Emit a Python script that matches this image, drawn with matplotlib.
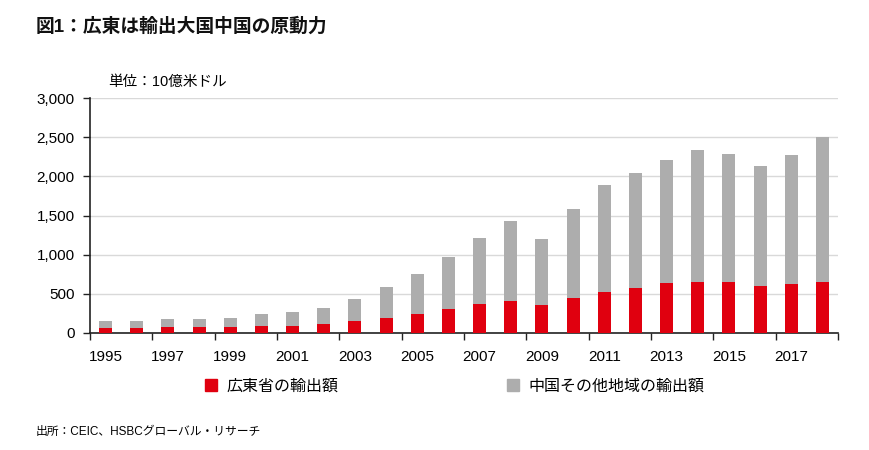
import matplotlib
matplotlib.use("Agg")
import matplotlib.pyplot as plt
from matplotlib.patches import Patch

plt.rcParams['font.family'] = ['Liberation Sans', 'Noto Sans CJK JP', 'DejaVu Sans']

years = list(range(1995, 2019))
# 10億米ドル
guangdong = [60, 60, 77, 77, 77, 89, 94, 119, 153, 191, 238, 302,
             370, 404, 361, 451, 527, 570, 634, 647, 645, 604, 626, 651]
total = [149, 149, 179, 179, 191, 243, 264, 319, 438, 587, 757, 966,
         1217, 1426, 1196, 1579, 1894, 2047, 2209, 2340, 2281, 2132, 2277, 2502]
rest = [t - g for t, g in zip(total, guangdong)]

RED = "#e0000f"
GRAY = "#adadad"

fig = plt.figure(figsize=(8.7, 4.5), dpi=100)
ax = fig.add_axes([90/870, 1-333/450, (838-90)/870, (333-98)/450])

x = list(range(len(years)))
ax.bar(x, guangdong, width=0.42, color=RED, zorder=3)
ax.bar(x, rest, width=0.42, bottom=guangdong, color=GRAY, zorder=3)

ax.set_xlim(-0.5, len(years) - 0.5)
ax.set_ylim(0, 3000)
ax.set_yticks(range(0, 3001, 500))
ax.set_yticklabels([f"{v:,}" for v in range(0, 3001, 500)], fontsize=11)
ax.yaxis.grid(True, color="#d9d9d9", linewidth=1, zorder=0)

# tick marks at category boundaries, labels at odd-year bar centres
ax.set_xticks([i - 0.5 for i in range(0, len(years) + 1, 2)])
ax.set_xticklabels([])
ax.set_xticks(x[::2], minor=True)
ax.set_xticklabels([str(y) for y in years[::2]], minor=True, fontsize=11)
ax.tick_params(axis='x', which='minor', length=0, pad=12)
ax.tick_params(axis='x', which='major', length=5, width=1, color="#222222")
ax.tick_params(axis='y', length=5, width=1, color="#222222", pad=6)

for s in ["top", "right"]:
    ax.spines[s].set_visible(False)
for s in ["left", "bottom"]:
    ax.spines[s].set_color("#222222")
    ax.spines[s].set_linewidth(1.2)

fig.text(36/870, 1-27/450, "図1：広東は輸出大国中国の原動力", fontsize=13.5,
         fontweight="bold", va="center", ha="left", color="#111111")
fig.text(108/870, 1-82/450, "単位：10億米ドル", fontsize=10.5, va="center", ha="left")

handles = [Patch(color=RED, label="広東省の輸出額"),
           Patch(color=GRAY, label="中国その他地域の輸出額")]
fig.legend(handles=handles, loc="center left", bbox_to_anchor=(191/870, 1-386/450),
           ncol=2, frameon=False, fontsize=11.5, handlelength=0.7, handleheight=0.7,
           handletextpad=0.6, columnspacing=10.6)

fig.text(36/870, 1-432/450, "出所：CEIC、HSBCグローバル・リサーチ", fontsize=8.5,
         va="center", ha="left")

fig.savefig("out.png", dpi=100)
